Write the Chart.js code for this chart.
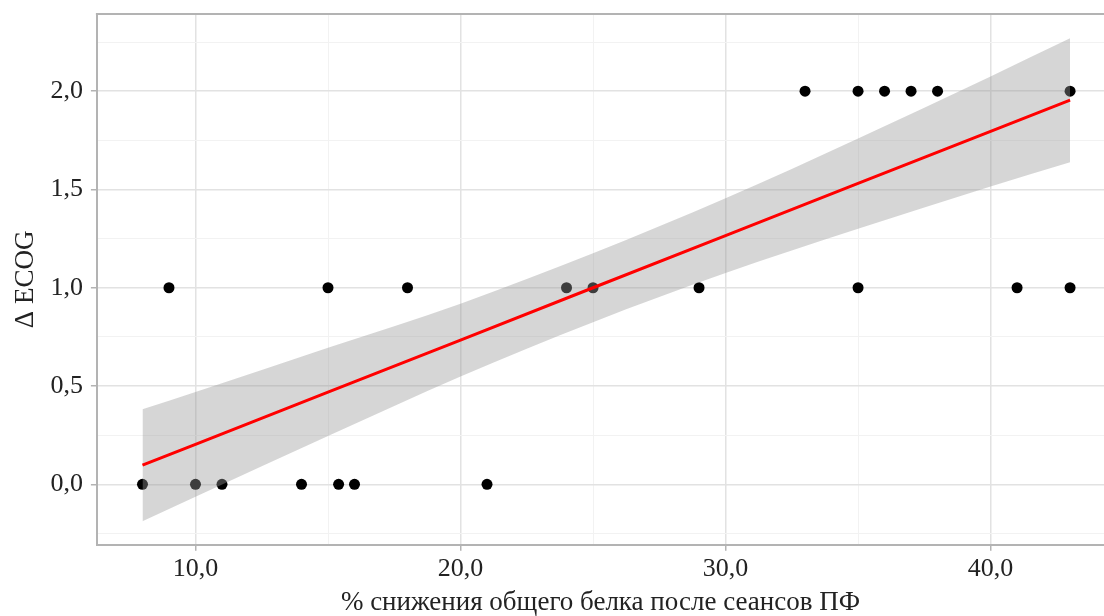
<!DOCTYPE html>
<html>
<head>
<meta charset="utf-8">
<script src="https://cdn.jsdelivr.net/npm/chart.js@4"></script>
<style>
  html, body { margin: 0; padding: 0; background: #fff; overflow: hidden; }
  #wrap { width: 1104px; height: 616px; }
</style>
</head>
<body>
<div id="wrap"><canvas id="c"></canvas></div>
<script>
// observed points
const pctDrop = [8, 9, 10, 11, 14, 15, 15.4, 16, 18, 21, 24, 25, 29, 33, 35, 35, 36, 37, 38, 41, 43, 43];
const dEcog = [0, 1, 0, 0, 0, 1, 0, 0, 1, 0, 1, 1, 1, 2, 2, 1, 2, 2, 2, 1, 2, 1];

// linear fit with confidence band
const fitX = [8, 10, 15, 20, 25, 30, 35, 40, 43];
const fitY = [0.097, 0.203, 0.469, 0.734, 1.0, 1.265, 1.531, 1.796, 1.955];
const ciHigh = [0.382, 0.47, 0.695, 0.919, 1.175, 1.455, 1.76, 2.075, 2.269];
const ciLow = [-0.188, -0.064, 0.245, 0.549, 0.825, 1.075, 1.30, 1.515, 1.639];

const xLabel = '% снижения общего белка после сеансов ПФ';
const yLabel = 'Δ ECOG';

const toPts = (xs, ys) => xs.map((x, i) => ({ x: x, y: ys[i] }));
const fmt = v => v.toFixed(1).replace('.', ',');
const isMajor = (v, step) => Math.abs(v / step - Math.round(v / step)) < 1e-6;

const serif = 'Liberation Serif';
const borderCol = '#b3b3b3';

// panel border along the top edge of the plot area
const topBorder = {
  id: 'topBorder',
  afterDatasetsDraw(chart) {
    const a = chart.chartArea;
    const ctx = chart.ctx;
    ctx.save();
    ctx.strokeStyle = borderCol;
    ctx.lineWidth = 2;
    ctx.beginPath();
    ctx.moveTo(a.left - 1, a.top);
    ctx.lineTo(a.right, a.top);
    ctx.stroke();
    ctx.restore();
  }
};

new Chart(document.getElementById('c'), {
  type: 'scatter',
  data: {
    datasets: [
      {
        label: 'upper',
        type: 'line',
        data: toPts(fitX, ciHigh),
        borderWidth: 0,
        pointRadius: 0,
        cubicInterpolationMode: 'monotone',
        fill: '+1',
        backgroundColor: 'rgba(153,153,153,0.4)',
        order: 1
      },
      {
        label: 'lower',
        type: 'line',
        data: toPts(fitX, ciLow),
        borderWidth: 0,
        pointRadius: 0,
        cubicInterpolationMode: 'monotone',
        fill: false,
        order: 1
      },
      {
        label: 'fit',
        type: 'line',
        data: toPts(fitX, fitY),
        borderColor: '#ff0000',
        borderWidth: 3,
        pointRadius: 0,
        fill: false,
        order: 0
      },
      {
        label: 'points',
        data: toPts(pctDrop, dEcog),
        backgroundColor: '#000',
        borderWidth: 0,
        pointRadius: 5.5,
        hoverRadius: 0,
        order: 3
      }
    ]
  },
  options: {
    responsive: true,
    maintainAspectRatio: false,
    animation: false,
    layout: { autoPadding: false, padding: { top: 14, right: 0, left: 0, bottom: 0 } },
    plugins: {
      legend: { display: false },
      tooltip: { enabled: false }
    },
    scales: {
      x: {
        type: 'linear',
        min: 6.28,
        max: 44.28,
        border: { display: true, color: borderCol, width: 2 },
        grid: {
          color: ctx => isMajor(ctx.tick.value, 10) ? '#e2e2e2' : '#f2f2f2',
          lineWidth: ctx => isMajor(ctx.tick.value, 10) ? 1.5 : 1,
          tickColor: ctx => isMajor(ctx.tick.value, 10) ? borderCol : 'transparent',
          tickLength: 6,
          tickWidth: 1.5
        },
        ticks: {
          stepSize: 5,
          includeBounds: false,
          maxRotation: 0,
          autoSkip: false,
          padding: 3,
          color: '#222',
          font: { family: serif, size: 26 },
          callback: v => isMajor(v, 10) ? fmt(v) : ''
        },
        title: {
          display: true,
          text: xLabel,
          color: '#222',
          font: { family: serif, size: 27, lineHeight: 1.0 },
          padding: { top: 1, bottom: 0 }
        }
      },
      y: {
        min: -0.308,
        max: 2.393,
        afterFit: s => { s.paddingTop = 0; s.paddingBottom = 0; },
        border: { display: true, color: borderCol, width: 2 },
        grid: {
          color: ctx => isMajor(ctx.tick.value, 0.5) ? '#e2e2e2' : '#f2f2f2',
          lineWidth: ctx => isMajor(ctx.tick.value, 0.5) ? 1.5 : 1,
          tickColor: ctx => isMajor(ctx.tick.value, 0.5) ? borderCol : 'transparent',
          tickLength: 6,
          tickWidth: 1.5
        },
        ticks: {
          stepSize: 0.25,
          includeBounds: false,
          autoSkip: false,
          padding: 8,
          color: '#222',
          font: { family: serif, size: 26 },
          callback: v => isMajor(v, 0.5) ? fmt(v) : ''
        },
        title: {
          display: true,
          text: yLabel,
          color: '#222',
          font: { family: serif, size: 27 },
          padding: { top: 10, bottom: 0 }
        }
      }
    }
  },
  plugins: [topBorder]
});
</script>
</body>
</html>
